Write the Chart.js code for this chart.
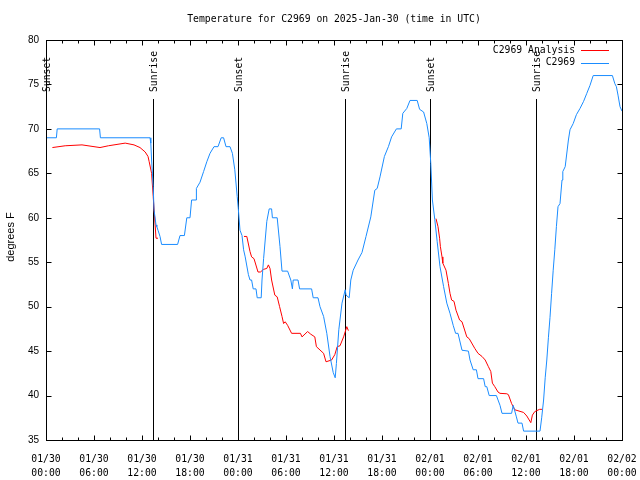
<!DOCTYPE html>
<html><head><meta charset="utf-8">
<script src="https://cdn.jsdelivr.net/npm/chart.js@4/dist/chart.umd.min.js"></script>
<style>html,body{margin:0;padding:0;background:#fff}#wrap{width:640px;height:480px}</style>
</head><body><div id="wrap"><canvas id="c" width="640" height="480"></canvas></div>
<script>
// Hours since 2025-01-30 00:00 UTC
const obsHours = [0,1.3,1.4,6.7,6.8,13.0,13.1,13.2,13.4,13.5,13.75,13.85,14.0,14.25,14.45,16.45,16.75,17.3,17.6,18.0,18.2,18.75,18.8,19.25,19.7,20.1,20.5,21.0,21.5,21.9,22.2,22.5,23.0,23.3,23.6,23.9,24.04,24.25,24.5,24.7,24.9,25.3,25.5,25.7,25.9,26.25,26.4,26.9,27.0,27.2,27.6,27.9,28.2,28.3,28.9,29.25,29.5,30.2,30.6,30.8,30.9,31.5,31.7,33.2,33.4,34.0,34.25,34.7,35.1,35.5,35.9,36.15,36.3,36.6,37.0,37.4,37.5,37.9,38.1,38.4,39.0,39.5,40.0,40.6,41.1,41.4,41.75,42.3,42.8,43.2,43.8,44.4,44.6,45.1,45.5,46.4,46.7,47.2,47.6,47.9,48.1,48.3,48.6,48.9,49.25,49.7,50.1,50.5,50.9,51.2,51.5,52.0,52.8,53.0,53.4,53.8,54.0,54.7,54.9,55.1,55.4,56.3,56.75,57.0,58.2,58.4,58.8,59.0,59.5,59.7,61.75,61.96,62.2,62.4,62.6,62.8,63.0,63.2,63.4,63.6,63.8,64.0,64.25,64.5,64.6,64.9,65.3,65.5,65.9,66.3,66.75,67.2,67.6,68.0,68.4,70.8,71.1,71.3,71.5,71.75,72.0];
const obsTemps = [69,69,70,70,69,69,68.4,66.5,63.5,60.9,59.2,59.0,58.6,57.9,57,57,58,58,60,60,62,62,63.3,64,65.2,66.3,67.25,68,68,69,69,68,68,67.25,65.4,62.4,61,58.6,58.0,56.4,55.6,53.6,53,53,52,52,51,51,53,55.4,59.6,61,61,60,60,56.75,54,54,53,52,53,53,52,52,51,51,50,48.9,47,44.4,42.6,42,43.6,47.4,50.4,51.9,51.3,51,53,54.1,55.25,56.1,57.9,60.1,63.1,63.3,64.6,66.9,68,69.1,70,70,71.75,72.3,73.2,73.2,72.2,71.9,70.6,69,66.1,62.0,59.8,57.3,54.5,52.25,50.4,49.25,47.9,47,47,45.1,45,44,42.9,42.9,41.9,41.9,41,41,40,40,38.9,38,38,38.9,37.6,36.9,36.9,36,36,37.5,39.5,42,44,46.5,48.8,51.5,54.1,56.4,59,61.25,61.6,64.25,65.2,65.75,68.75,69.9,70.6,71.6,72.3,73.1,74,74.9,76,76,75.1,74.75,73.8,72.5,72.0];

const anaHours = [0.8,2.4,4.5,6.75,7.8,9.9,11.0,11.75,12.4,12.75,12.9,13.2,13.4,13.6,13.75,14.0,20,24.75,25.1,25.5,25.7,26.0,26.5,26.8,27.2,27.6,27.8,28.0,28.2,28.6,28.9,29.2,29.5,29.7,29.9,30.2,30.7,31.8,32.0,32.7,33.1,33.6,33.8,34.7,35.0,35.7,36.1,36.4,36.75,37.2,37.6,37.8,44,48.75,49.0,49.2,49.3,49.5,49.6,50.0,50.3,50.5,50.7,51.0,51.25,51.7,52.0,52.6,52.9,53.6,54.0,54.5,54.9,55.3,55.6,55.8,56.1,56.5,56.75,57.6,57.8,58.2,58.6,59.7,60.1,60.6,60.8,61.1,61.7,62.0];
const anaTemps = [67.9,68.1,68.2,67.9,68.1,68.4,68.2,67.9,67.4,66.9,66.3,65.0,62.4,59.75,57.7,57.7,null,57.9,57.9,56.2,55.6,55.4,53.9,53.9,54.2,54.3,54.7,54.3,53,51.3,51.1,50,48.9,48.1,48.3,47.9,47,47,46.6,47.2,46.9,46.6,45.5,44.75,43.8,44.0,44.6,45.5,45.6,46.6,47.75,47.3,null,59.9,59.0,57.7,56.75,55.6,54.9,54.1,52.6,51.5,50.75,50.6,49.6,48.5,48.3,46.6,46.4,45.3,44.75,44.4,44.0,43.25,42.7,41.4,41.0,40.4,40.25,40.2,40.1,39.1,38.4,38.1,37.7,36.95,37.8,38.2,38.45,38.45];

const sunHours  = [0.0, 13.4, 24.04, 37.4, 48.04, 61.3];
const sunLabels = ['Sunset','Sunrise','Sunset','Sunrise','Sunset','Sunrise'];

const xDates = ['01/30','01/30','01/30','01/30','01/31','01/31','01/31','01/31','02/01','02/01','02/01','02/01','02/02'];
const xTimes = ['00:00','06:00','12:00','18:00','00:00','06:00','12:00','18:00','00:00','06:00','12:00','18:00','00:00'];

const titleText = 'Temperature for C2969 on 2025-Jan-30 (time in UTC)';
const yTitle = 'degrees F';
const seriesNames = ['C2969 Analysis','C2969'];
const RED = '#ff0000', BLUE = '#1a8cff';
const MONOFAM = '"DejaVu Sans Mono", "Liberation Mono", monospace';
const MONO = '9.75px ' + MONOFAM;

const obsData = obsHours.map((h,i)=>({x:h,y:obsTemps[i]}));
const anaData = anaHours.map((h,i)=>({x:h,y:anaTemps[i]}));

const overlay = {
  id:'overlay',
  beforeDatasetsDraw(chart){
    const ctx=chart.ctx, xs=chart.scales.x, a=chart.chartArea;
    ctx.save();
    ctx.strokeStyle='#000'; ctx.lineWidth=1;
    ctx.font=MONO; ctx.fillStyle='#000';
    sunHours.forEach((h,i)=>{
      const px=Math.round(xs.getPixelForValue(h))+0.5;
      ctx.beginPath(); ctx.moveTo(px,99); ctx.lineTo(px,a.bottom); ctx.stroke();
      ctx.save(); ctx.translate(px+1,92); ctx.rotate(-Math.PI/2);
      ctx.textAlign='left'; ctx.textBaseline='middle';
      ctx.fillText(sunLabels[i],0,0); ctx.restore();
    });
    ctx.restore();
  },
  afterDraw(chart){
    const ctx=chart.ctx, xs=chart.scales.x, ys=chart.scales.y, a=chart.chartArea;
    ctx.save();
    ctx.strokeStyle='#000'; ctx.lineWidth=1;
    const L=Math.round(a.left)+0.5, R=Math.round(a.right)+0.5, T=Math.round(a.top)+0.5, B=Math.round(a.bottom)+0.5;
    ctx.strokeRect(L,T,R-L,B-T);
    ctx.beginPath();
    for(let h=0;h<=72;h+=2){
      const px=Math.round(xs.getPixelForValue(h))+0.5;
      const len=(h%6===0)?5:3;
      ctx.moveTo(px,B); ctx.lineTo(px,B-len);
      ctx.moveTo(px,T); ctx.lineTo(px,T+len);
    }
    for(let v=35;v<=80;v+=5){
      const py=Math.round(ys.getPixelForValue(v))+0.5;
      ctx.moveTo(L,py); ctx.lineTo(L+5,py);
      ctx.moveTo(R,py); ctx.lineTo(R-5,py);
    }
    ctx.stroke();
    ctx.fillStyle='#000'; ctx.font=MONO; ctx.textAlign='center'; ctx.textBaseline='middle';
    ctx.fillText(titleText,(a.left+a.right)/2,19);
    ctx.save(); ctx.translate(11,(a.top+a.bottom)/2-3); ctx.rotate(-Math.PI/2);
    ctx.font='11px "Liberation Sans", Arial, sans-serif'; ctx.textAlign='center'; ctx.textBaseline='middle';
    ctx.fillText(yTitle,0,0); ctx.restore();
    ctx.font=MONO; ctx.textAlign='right'; ctx.textBaseline='middle';
    const ly=[50,62.5], cols=[RED,BLUE];
    seriesNames.forEach((n,i)=>{
      ctx.fillStyle='#000'; ctx.fillText(n,575,ly[i]);
      ctx.strokeStyle=cols[i]; ctx.beginPath();
      ctx.moveTo(581,Math.round(ly[i])+0.5); ctx.lineTo(609,Math.round(ly[i])+0.5); ctx.stroke();
    });
    ctx.restore();
  }
};

new Chart(document.getElementById('c'),{
  type:'line',
  data:{datasets:[
    {label:seriesNames[0],data:anaData,borderColor:RED,borderWidth:1,pointRadius:0,fill:false,spanGaps:false,tension:0,order:1},
    {label:seriesNames[1],data:obsData,borderColor:BLUE,borderWidth:1,pointRadius:0,fill:false,tension:0,order:0}
  ]},
  options:{
    responsive:false,animation:false,devicePixelRatio:1,
    layout:{padding:{top:40,left:0,right:18,bottom:0}},
    plugins:{legend:{display:false},title:{display:false},tooltip:{enabled:false}},
    scales:{
      x:{type:'linear',min:0,max:72,
        ticks:{stepSize:6,autoSkip:false,maxRotation:0,minRotation:0,color:'#000',padding:12,
          font:{family:MONOFAM,size:9.75,lineHeight:1.5},
          callback:(v)=>{const i=Math.round(v/6);return (v%6===0)?[xDates[i],xTimes[i]]:'';}},
        grid:{display:false,drawTicks:false},border:{display:false},
        afterFit:(s)=>{s.height=40;s.paddingLeft=0;s.paddingRight=0;}},
      y:{type:'linear',min:35,max:80,
        ticks:{stepSize:5,color:'#000',padding:7,font:{family:'"Liberation Sans", Arial, sans-serif',size:10}},
        grid:{display:false,drawTicks:false},border:{display:false},
        afterFit:(s)=>{s.width=46;s.paddingTop=0;s.paddingBottom=0;}}
    }
  },
  plugins:[overlay]
});
</script></body></html>
